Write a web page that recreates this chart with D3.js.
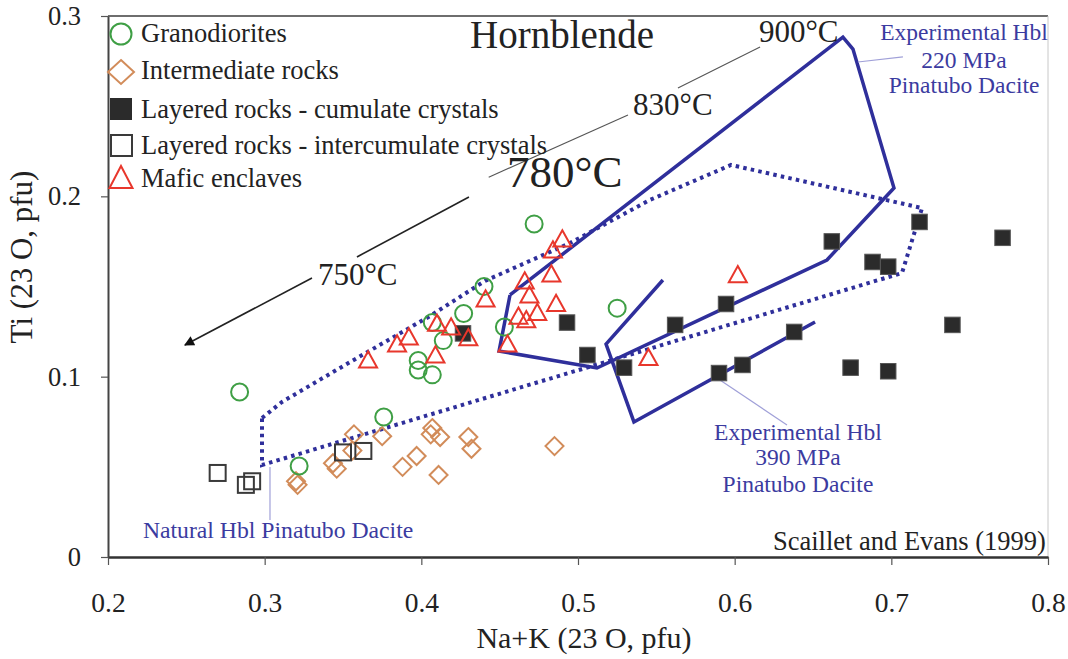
<!DOCTYPE html>
<html>
<head>
<meta charset="utf-8">
<script src="https://cdn.jsdelivr.net/npm/d3@7"></script>
<style>
  html, body { margin: 0; padding: 0; background: #fff; }
  svg { display: block; }
  text { font-family: "Liberation Serif", "Times New Roman", serif; }
</style>
</head>
<body>
<svg id="chart" width="1068" height="659"></svg>
<script>
// Hornblende Ti vs Na+K (23 O, pfu)
const xTicks = [0.2, 0.3, 0.4, 0.5, 0.6, 0.7, 0.8];
const yTicks = [0, 0.1, 0.2, 0.3];

const granodiorites = [
  [0.284, 0.0915], [0.322, 0.0505], [0.376, 0.0776], [0.398, 0.109],
  [0.398, 0.1037], [0.407, 0.101], [0.407, 0.130], [0.414, 0.120],
  [0.427, 0.135], [0.440, 0.150], [0.453, 0.1275], [0.472, 0.1847],
  [0.525, 0.138]
];
const intermediate = [
  [0.320, 0.042], [0.321, 0.040], [0.3436, 0.052], [0.346, 0.049],
  [0.356, 0.059], [0.357, 0.068], [0.375, 0.067], [0.388, 0.050],
  [0.397, 0.056], [0.407, 0.0715], [0.406, 0.068], [0.412, 0.0665],
  [0.411, 0.0455], [0.430, 0.0665], [0.432, 0.060], [0.485, 0.0615]
];
const cumulate = [
  [0.4266, 0.124], [0.493, 0.130], [0.506, 0.112], [0.5294, 0.105],
  [0.562, 0.1287], [0.5945, 0.1403], [0.590, 0.102], [0.605, 0.1065],
  [0.638, 0.1248], [0.662, 0.175], [0.674, 0.105], [0.688, 0.1636],
  [0.698, 0.161], [0.718, 0.1858], [0.698, 0.103], [0.739, 0.1287],
  [0.771, 0.177]
];
const intercumulate = [
  [0.270, 0.0466], [0.288, 0.040], [0.292, 0.042], [0.350, 0.058], [0.363, 0.0588]
];
const maficEnclaves = [
  [0.366, 0.1087], [0.3845, 0.1176], [0.392, 0.1214], [0.409, 0.1115],
  [0.410, 0.129], [0.419, 0.127], [0.430, 0.121], [0.441, 0.1425],
  [0.455, 0.1176], [0.466, 0.1525], [0.469, 0.1447], [0.483, 0.1564],
  [0.484, 0.1697], [0.490, 0.1758], [0.486, 0.140], [0.474, 0.135],
  [0.462, 0.133], [0.467, 0.131], [0.545, 0.110], [0.602, 0.156]
];

// Experimental fields (Scaillet and Evans, 1999)
const exp220 = [
  [0.4566, 0.1453], [0.6691, 0.2883], [0.6755, 0.2817], [0.7017, 0.2046],
  [0.6589, 0.1647], [0.5121, 0.1048], [0.4496, 0.1142]
];
const exp390 = [
  [0.5542, 0.1536], [0.5179, 0.1181], [0.5357, 0.0749], [0.6513, 0.1303]
];
const naturalHbl = [
  [0.2983, 0.0771], [0.3111, 0.0860], [0.3545, 0.1081], [0.4055, 0.1336],
  [0.4406, 0.1531], [0.4949, 0.1741], [0.5459, 0.1980], [0.5977, 0.2174],
  [0.7196, 0.1935], [0.7068, 0.1575], [0.2983, 0.0510]
];

const legendLabels = [
  "Granodiorites",
  "Intermediate rocks",
  "Layered rocks - cumulate crystals",
  "Layered rocks - intercumulate crystals",
  "Mafic enclaves"
];

const svg = d3.select("#chart");
const x = d3.scaleLinear().domain([0.2, 0.8]).range([108, 1048]);
const y = d3.scaleLinear().domain([0, 0.3]).range([557, 16]);

const NAVY = "#2f2f9b";
const LABEL = "#3b3ba0";
const LEADER = "#a0a0d8";

// frame: top and right edges
svg.append("line").attr("x1", x(0.2)).attr("x2", x(0.8)).attr("y1", y(0.3)).attr("y2", y(0.3))
  .attr("stroke", "#6e6e6e").attr("stroke-width", 2);
svg.append("line").attr("x1", x(0.8)).attr("x2", x(0.8)).attr("y1", y(0.3)).attr("y2", y(0))
  .attr("stroke", "#c8c8c8").attr("stroke-width", 1);

// axes
const xAxis = svg.append("g").attr("transform", `translate(0,${y(0)})`)
  .call(d3.axisBottom(x).tickValues(xTicks).tickFormat(d3.format(".1f")).tickSize(8).tickSizeOuter(0));
xAxis.select(".domain").attr("stroke", "#333").attr("stroke-width", 2.5);
xAxis.selectAll(".tick line").attr("stroke", "#555").attr("stroke-width", 1.2);
xAxis.selectAll(".tick text").attr("font-size", 27.5).attr("fill", "#222").attr("dy", "1.6em")
  .attr("font-family", "Liberation Serif");

const yAxis = svg.append("g").attr("transform", `translate(${x(0.2)},0)`)
  .call(d3.axisLeft(y).tickValues(yTicks).tickFormat(d => d === 0 ? "0" : d3.format(".1f")(d)).tickSize(7).tickSizeOuter(0));
yAxis.select(".domain").attr("stroke", "#444").attr("stroke-width", 2);
yAxis.selectAll(".tick line").attr("stroke", "#555").attr("stroke-width", 1.2);
yAxis.selectAll(".tick text").attr("font-size", 26.5).attr("fill", "#222").attr("x", -27)
  .attr("font-family", "Liberation Serif");

// axis titles
svg.append("text").attr("x", 584).attr("y", 648).attr("text-anchor", "middle")
  .attr("font-size", 30).attr("fill", "#222").text("Na+K (23 O, pfu)");
svg.append("text").attr("transform", `translate(32,${257}) rotate(-90)`).attr("text-anchor", "middle")
  .attr("font-size", 31).attr("fill", "#222").text("Ti (23 O, pfu)");

const line = d3.line().x(d => x(d[0])).y(d => y(d[1]));

// natural hornblende field (dotted)
svg.append("path").datum(naturalHbl.concat([naturalHbl[0]]))
  .attr("d", line).attr("fill", "none").attr("stroke", NAVY)
  .attr("stroke-width", 4).attr("stroke-dasharray", "3.5,4.2");

// experimental fields
svg.append("path").datum(exp220.concat([exp220[0]]))
  .attr("d", line).attr("fill", "none").attr("stroke", NAVY).attr("stroke-width", 3.5)
  .attr("stroke-linejoin", "miter");
svg.append("path").datum(exp390)
  .attr("d", line).attr("fill", "none").attr("stroke", NAVY).attr("stroke-width", 3.5)
  .attr("stroke-linejoin", "miter");

// leader lines
const leaders = [
  [[0.3034, 0.0499], [0.3034, 0.0205]],
  [[0.6787, 0.2745], [0.7074, 0.2773]],
  [[0.5887, 0.0993], [0.6334, 0.0732]]
];
leaders.forEach(seg => svg.append("path").datum(seg).attr("d", line)
  .attr("stroke", LEADER).attr("stroke-width", 1.2).attr("fill", "none"));

// temperature trend lines
const tempSegs = [
  [[0.4430, 0.2106], [0.5319, 0.2451]],
  [[0.5638, 0.2601], [0.6162, 0.2828]]
];
tempSegs.forEach(seg => svg.append("path").datum(seg).attr("d", line)
  .attr("stroke", "#555").attr("stroke-width", 1.1).attr("fill", "none"));

svg.append("defs").append("marker").attr("id", "arrowHead")
  .attr("viewBox", "0 0 10 10").attr("refX", 9).attr("refY", 5)
  .attr("markerWidth", 14).attr("markerHeight", 10).attr("markerUnits", "userSpaceOnUse")
  .attr("orient", "auto")
  .append("path").attr("d", "M0,0 L10,5 L0,10 z").attr("fill", "#111");
svg.append("path").datum([[0.4304, 0.1996], [0.3589, 0.1664]]).attr("d", line)
  .attr("stroke", "#222").attr("stroke-width", 1.6).attr("fill", "none");
svg.append("path").datum([[0.3302, 0.1547], [0.2491, 0.1176]]).attr("d", line)
  .attr("stroke", "#222").attr("stroke-width", 1.6).attr("fill", "none")
  .attr("marker-end", "url(#arrowHead)");

// text annotations
function label(txt, px, py, size, opts = {}) {
  return svg.append("text").attr("x", x(px)).attr("y", y(py))
    .attr("font-size", size).attr("fill", opts.fill || "#222")
    .attr("text-anchor", opts.anchor || "start").text(txt);
}
label("Hornblende", 0.4311, 0.2823, 39);
label("900°C", 0.6155, 0.2856, 31);
label("830°C", 0.5351, 0.2451, 31);
label("780°C", 0.4547, 0.2050, 45);
label("750°C", 0.334, 0.1508, 31);

label("Experimental Hbl", 0.7464, 0.2867, 23.5, { fill: LABEL, anchor: "middle" });
label("220 MPa", 0.7464, 0.2711, 23.5, { fill: LABEL, anchor: "middle" });
label("Pinatubo Dacite", 0.7464, 0.2573, 23.5, { fill: LABEL, anchor: "middle" });

label("Experimental Hbl", 0.6404, 0.0649, 23.5, { fill: LABEL, anchor: "middle" });
label("390 MPa", 0.6404, 0.0510, 23.5, { fill: LABEL, anchor: "middle" });
label("Pinatubo Dacite", 0.6404, 0.0360, 23.5, { fill: LABEL, anchor: "middle" });

label("Natural Hbl Pinatubo Dacite", 0.2223, 0.0105, 23.7, { fill: LABEL });
label("Scaillet and Evans (1999)", 0.7987, 0.0039, 26.5, { anchor: "end" });

// symbol drawers
const marks = svg.append("g");
function circles(data, r) {
  marks.selectAll(null).data(data).enter().append("circle")
    .attr("cx", d => x(d[0])).attr("cy", d => y(d[1])).attr("r", r)
    .attr("fill", "none").attr("stroke", "#3f9f45").attr("stroke-width", 2);
}
function diamonds(data, h) {
  marks.selectAll(null).data(data).enter().append("path")
    .attr("d", d => `M${x(d[0])},${y(d[1]) - h}L${x(d[0]) + h},${y(d[1])}L${x(d[0])},${y(d[1]) + h}L${x(d[0]) - h},${y(d[1])}Z`)
    .attr("fill", "none").attr("stroke", "#d28c5a").attr("stroke-width", 2);
}
function squares(data, s, filled) {
  marks.selectAll(null).data(data).enter().append("rect")
    .attr("x", d => x(d[0]) - s / 2).attr("y", d => y(d[1]) - s / 2)
    .attr("width", s).attr("height", s)
    .attr("fill", filled ? "#2b2b2b" : "none")
    .attr("stroke", filled ? "#555" : "#3a3a3a").attr("stroke-width", filled ? 1 : 2);
}
function triangles(data, w) {
  const h = w * 0.9;
  marks.selectAll(null).data(data).enter().append("path")
    .attr("d", d => {
      const cx = x(d[0]), cy = y(d[1]);
      return `M${cx},${cy - h * 0.6}L${cx + w / 2},${cy + h * 0.4}L${cx - w / 2},${cy + h * 0.4}Z`;
    })
    .attr("fill", "none").attr("stroke", "#e8372c").attr("stroke-width", 2);
}

diamonds(intermediate, 9);
squares(intercumulate, 16, false);
circles(granodiorites, 8.5);
squares(cumulate, 15.5, true);
triangles(maficEnclaves, 18);

// legend
const legendRows = [34, 72, 109, 145, 178];
const legendBase = [42, 79, 118, 154, 187];
const lg = svg.append("g");
lg.append("circle").attr("cx", 121).attr("cy", legendRows[0]).attr("r", 10.5)
  .attr("fill", "none").attr("stroke", "#3f9f45").attr("stroke-width", 2);
lg.append("path").attr("d", `M121,${legendRows[1] - 12}L134,${legendRows[1]}L121,${legendRows[1] + 12}L108,${legendRows[1]}Z`)
  .attr("fill", "none").attr("stroke", "#d28c5a").attr("stroke-width", 2);
lg.append("rect").attr("x", 110).attr("y", legendRows[2] - 11).attr("width", 22).attr("height", 22)
  .attr("fill", "#2b2b2b");
lg.append("rect").attr("x", 111).attr("y", legendRows[3] - 10).attr("width", 21).attr("height", 21)
  .attr("fill", "none").attr("stroke", "#3a3a3a").attr("stroke-width", 2);
lg.append("path").attr("d", `M121,${legendRows[4] - 12}L132.5,${legendRows[4] + 10}L109.5,${legendRows[4] + 10}Z`)
  .attr("fill", "none").attr("stroke", "#e8372c").attr("stroke-width", 2);
legendLabels.forEach((t, i) => {
  lg.append("text").attr("x", 141).attr("y", legendBase[i]).attr("font-size", 26.5)
    .attr("fill", "#222").text(t);
});
</script>
</body>
</html>
